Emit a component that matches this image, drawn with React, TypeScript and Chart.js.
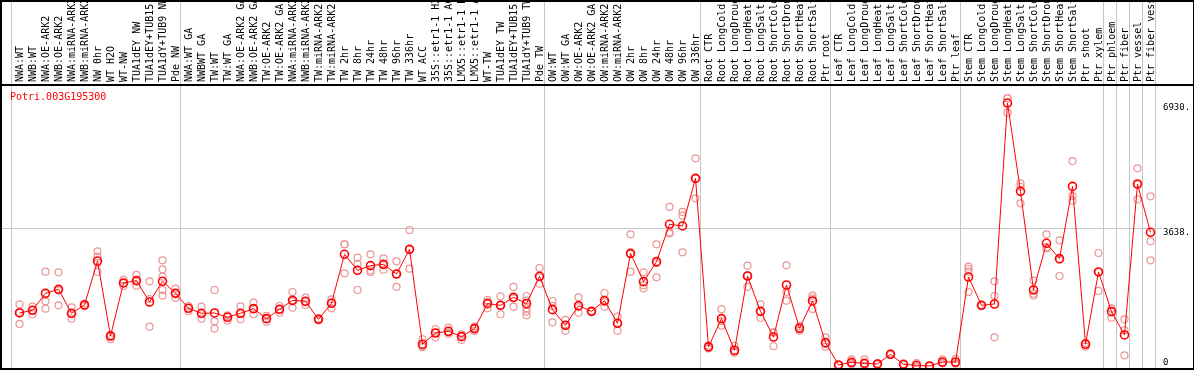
import { useEffect, useRef } from 'react';
import { Chart, registerables } from 'chart.js';

Chart.register(...registerables);

const geneName = 'Potri.003G195300';

const categories = [
  'NWA:WT', 'NWB:WT', 'NWA:OE-ARK2', 'NWB:OE-ARK2', 'NWA:miRNA-ARK2', 'NWB:miRNA-ARK2', 'NW 0hr', 'WT H2O', 'WT-NW', 'TUA1dEY NW',
  'TUA1dEY+TUB15', 'TUA1dY+TUB9 NW', 'Pde NW', 'NWA:WT GA', 'NWBWT GA', 'TW:WT', 'TW:WT GA', 'NWA:OE-ARK2 GA', 'NWB:OE-ARK2 GA', 'TW:OE-ARK2',
  'TW:OE-ARK2 GA', 'NWA:miRNA-ARK2', 'NWB:miRNA-ARK2', 'TW:miRNA-ARK2', 'TW:miRNA-ARK2', 'TW 2hr', 'TW 8hr', 'TW 24hr', 'TW 48hr', 'TW 96hr',
  'TW 336hr', 'WT ACC', '35S::etr1-1 H2', '35S::etr1-1 AC', 'LMX5::etr1-1 H', 'LMX5::etr1-1 A', 'WT-TW', 'TUA1dEY TW', 'TUA1dEY+TUB15', 'TUA1dY+TUB9 TW',
  'Pde TW', 'OW:WT', 'OW:WT GA', 'OW:OE-ARK2', 'OW:OE-ARK2 GA', 'OW:miRNA-ARK2', 'OW:miRNA-ARK2', 'OW 2hr', 'OW 8hr', 'OW 24hr',
  'OW 48hr', 'OW 96hr', 'OW 336hr', 'Root CTR', 'Root LongCold', 'Root LongDroug', 'Root LongHeat', 'Root LongSalt', 'Root ShortCold', 'Root ShortDrou',
  'Root ShortHeat', 'Root ShortSalt', 'Ptr root', 'Leaf CTR', 'Leaf LongCold', 'Leaf LongDroug', 'Leaf LongHeat', 'Leaf LongSalt', 'Leaf ShortCold', 'Leaf ShortDrou',
  'Leaf ShortHeat', 'Leaf ShortSalt', 'Ptr leaf', 'Stem CTR', 'Stem LongCold', 'Stem LongDroug', 'Stem LongHeat', 'Stem LongSalt', 'Stem ShortCold', 'Stem ShortDrou',
  'Stem ShortHeat', 'Stem ShortSalt', 'Ptr shoot', 'Ptr xylem', 'Ptr phloem', 'Ptr fiber', 'Ptr vessel', 'Ptr fiber vess',
];

const meanValues = [
  1414, 1484, 1930, 2035, 1405, 1624, 2780, 809, 2202, 2264,
  1702, 2246, 1930, 1536, 1405, 1414, 1300, 1405, 1527, 1265,
  1510, 1746, 1720, 1247, 1668, 2955, 2535, 2657, 2692, 2438,
  3086, 592, 888, 932, 792, 1002, 1659, 1615, 1825, 1659,
  2377, 1501, 1090, 1606, 1457, 1738, 1142, 2981, 2237, 2762,
  3744, 3700, 4951, 522, 1265, 434, 2385, 1457, 783, 2149,
  1012, 1729, 634, 47, 117, 91, 74, 328, 65, 39,
  21, 126, 126, 2359, 1615, 1650, 6930, 4609, 2018, 3244,
  2841, 4740, 592, 2491, 1449, 836, 4803, 3533,
];

const repA = [
  1642, 1581, 2500, 2483, 1562, 1660, 3034, 835, 2281, 2413,
  2246, 2798, 2053, 1597, 1580, 2018, 1352, 1589, 1685, 1335,
  1597, 1965, 1816, 1270, 1772, 3218, 2868, 2955, 2850, 2771,
  3594, 723, 993, 1029, 853, 1055, 1750, 1852, 2097, 1860,
  2596, 1729, 1230, 1825, 1470, 1939, 1317, 3480, 2483, 3218,
  4200, 4068, 5477, 560, 1510, 548, 2657, 1642, 906, 2666,
  1070, 1870, 774, 55, 196, 196, 90, 345, 75, 100,
  30, 196, 210, 2630, 1630, 2246, 7062, 4819, 2264, 3480,
  3323, 5406, 627, 2990, 1527, 1247, 5214, 4479,
];

const repB = [
  1125, 1380, 1720, 1615, 1265, 1590, 2894, 723, 2123, 2132,
  1055, 2561, 1808, 1457, 1265, 1195, 1212, 1247, 1380, 1186,
  1422, 1554, 1624, 1220, 1536, 2456, 2018, 2492, 2552, 2097,
  2578, 513, 774, 870, 705, 940, 1536, 1380, 1580, 1740,
  2185, 1169, 949, 1422, 1440, 1580, 949, 2500, 2062, 2350,
  3533, 3971, 4426, 478, 1081, 390, 2097, 1282, 539, 1738,
  949, 1519, 529, 40, 90, 4, 60, 310, 55, 5,
  15, 90, 90, 2569, 1600, 1860, 6677, 4731, 1870, 3138,
  2385, 4487, 529, 1992, 1291, 301, 4401, 3297,
];

const repC = [
  1440, 1490, 1527, 2010, 1380, 1620, 2492, 790, 2200, 2250,
  1780, 2368, 1930, 1550, 1380, 1003, 1330, 1380, 1520, 1270,
  1510, 1720, 1720, 1250, 1690, 3220, 2700, 2530, 2680, 2440,
  3090, 545, 900, 900, 810, 1010, 1690, 1615, 1800, 1536,
  2350, 1600, 1090, 1570, 1460, 1700, 1160, 2960, 2140, 2720,
  3500, 3007, 4950, 530, 1200, 370, 2400, 1450, 900, 1970,
  1020, 1800, 600, 47, 65, 75, 74, 330, 65, 12,
  20, 95, 80, 2500, 1615, 774, 7050, 4294, 1920, 3110,
  2815, 4364, 620, 2490, 1530, 960, 4795, 2798,
];

const extraRepCategory = [6, 11, 11, 39, 39, 73];
const extraRepValue = [2720, 2018, 1870, 1450, 1352, 1965];

// indices of the first sample of each group (separator lines drawn before them)
const groupStarts = [0, 13, 41, 53, 63, 73, 84, 85, 86, 87, 88];

const yTickValues = [0, 3638, 6930];

const SEP_SHIFT = -0.63;
const GRID = '#c6c6c6';
const MONO = '"DejaVu Sans Mono", monospace';
const TRANSPARENT = 'rgba(0,0,0,0)';

const sepValues = groupStarts.map((g) => g + SEP_SHIFT);
const xTickValues = [...categories.map((_, i) => i), ...sepValues].sort((a, b) => a - b);
const isSep = (v: number | undefined) => v !== undefined && sepValues.some((s) => Math.abs(s - v) < 1e-6);

const meanPoints = meanValues.map((v, i) => ({ x: i, y: v }));
const repPoints = [
  ...repA.map((v, i) => ({ x: i, y: v })),
  ...repB.map((v, i) => ({ x: i, y: v })),
  ...repC.map((v, i) => ({ x: i, y: v })),
  ...extraRepCategory.map((c, k) => ({ x: c, y: extraRepValue[k] })),
];

const decorPlugin = {
  id: 'decor',
  afterDraw(chart: any) {
    const { ctx, chartArea, width } = chart;
    ctx.save();
    ctx.fillStyle = '#000';
    ctx.fillRect(0, chartArea.top - 1, width, 2);
    ctx.font = '10px ' + MONO;
    ctx.fillStyle = '#ff0000';
    ctx.textBaseline = 'middle';
    ctx.textAlign = 'left';
    ctx.fillText(geneName, chartArea.left + 8, chartArea.top + 12);
    ctx.restore();
  },
};

export default function App() {
  const ref = useRef<HTMLCanvasElement>(null);

  useEffect(() => {
    document.body.style.margin = '0';
    const chart = new Chart(ref.current as HTMLCanvasElement, {
      type: 'line',
      data: {
        datasets: [
          {
            label: 'mean',
            data: meanPoints,
            borderColor: '#ff0000',
            borderWidth: 1,
            pointRadius: 4,
            pointBorderWidth: 1.6,
            pointBorderColor: '#ff0000',
            pointBackgroundColor: TRANSPARENT,
            backgroundColor: TRANSPARENT,
            fill: false,
            tension: 0,
            clip: false,
          },
          {
            label: 'replicates',
            data: repPoints,
            showLine: false,
            pointRadius: 3.5,
            pointBorderWidth: 1.2,
            pointBorderColor: 'rgb(236,150,150)',
            pointBackgroundColor: TRANSPARENT,
            borderColor: 'rgb(236,150,150)',
            backgroundColor: TRANSPARENT,
            clip: false,
          },
        ],
      } as any,
      options: {
        responsive: false,
        devicePixelRatio: 1,
        animation: false,
        events: [],
        layout: { padding: 0, autoPadding: false } as any,
        plugins: { legend: { display: false }, tooltip: { enabled: false }, title: { display: false } },
        scales: {
          x: {
            type: 'linear',
            position: 'top',
            min: -17.5 / 13,
            max: -17.5 / 13 + 1160 / 13,
            bounds: 'data',
            afterBuildTicks: (s: any) => {
              s.ticks = xTickValues.map((v) => ({ value: v }));
            },
            afterFit: (s: any) => {
              s.height = 83;
              s.paddingLeft = 0;
              s.paddingRight = 0;
            },
            grid: {
              color: (ctx: any) => (isSep(ctx.tick?.value) ? GRID : TRANSPARENT),
              tickColor: (ctx: any) => (isSep(ctx.tick?.value) ? GRID : TRANSPARENT),
              lineWidth: 1,
              drawTicks: true,
              tickLength: 83,
            },
            border: { display: false },
            ticks: {
              autoSkip: false,
              minRotation: 90,
              maxRotation: 90,
              padding: -80,
              labelOffset: 13,
              color: '#000',
              font: { family: MONO, size: 10 },
              callback: (v: any) => (Number.isInteger(v) ? categories[v] : ''),
            },
          } as any,
          y: {
            type: 'linear',
            position: 'right',
            min: -32,
            max: 7404,
            afterBuildTicks: (s: any) => {
              s.ticks = yTickValues.map((v) => ({ value: v }));
            },
            afterFit: (s: any) => {
              s.width = 31;
              s.paddingTop = 0;
              s.paddingBottom = 0;
            },
            grid: {
              color: (ctx: any) => (ctx.tick && ctx.tick.value === yTickValues[1] ? GRID : TRANSPARENT),
              drawTicks: false,
              lineWidth: 1,
            },
            border: { display: false },
            ticks: {
              padding: 1,
              labelOffset: 4.5,
              color: '#000',
              font: { family: MONO, size: 9, lineHeight: 2 },
              callback: (v: any) => (v === 0 ? ['0', ''] : v + '.'),
            },
          } as any,
        },
      },
      plugins: [decorPlugin],
    });
    return () => chart.destroy();
  }, []);

  return (
    <div
      style={{
        position: 'absolute',
        left: 0,
        top: 0,
        width: 1194,
        height: 370,
        boxSizing: 'border-box',
        borderStyle: 'solid',
        borderColor: '#000',
        borderWidth: '2px 1px 2px 2px',
        background: '#fff',
      }}
    >
      <canvas ref={ref} width={1191} height={366} style={{ display: 'block', width: 1191, height: 366 }} />
    </div>
  );
}
